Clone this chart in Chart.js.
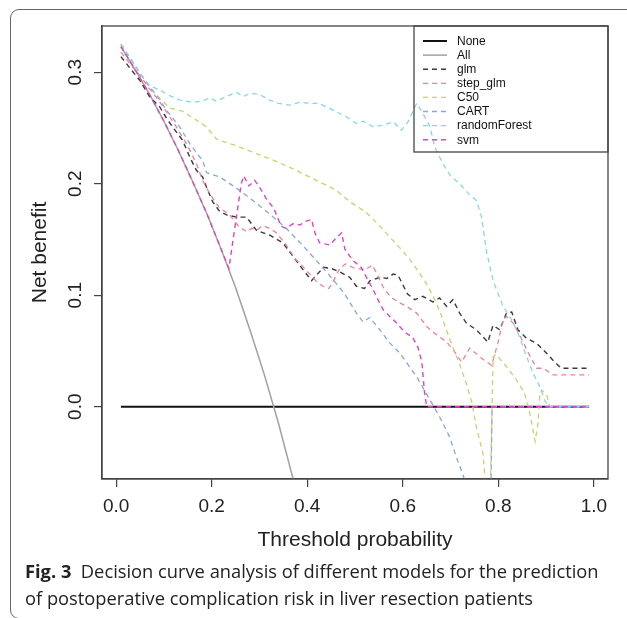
<!DOCTYPE html>
<html>
<head>
<meta charset="utf-8">
<script src="https://cdn.jsdelivr.net/npm/chart.js@4.4.1/dist/chart.umd.min.js"></script>
<style>
  html, body { margin: 0; padding: 0; background: #fff; }
  #wrap { position: relative; width: 627px; height: 618px; overflow: hidden; }
  #frame {
    position: absolute; left: 10px; top: 9px; width: 700px; height: 610px;
    border: 1.3px solid #666; border-radius: 9px; box-sizing: border-box;
  }
  #chart { position: absolute; left: 0; top: 0; }
  #caption {
    position: absolute; left: 25px; top: 557px; white-space: nowrap;
    font-family: "Open Sans", "Noto Sans", sans-serif; font-size: 18.3px; line-height: 27px; color: #222;
  }
</style>
</head>
<body>
<div id="wrap">
  <div id="frame"></div>
  <canvas id="chart" width="627" height="618"></canvas>
  <div id="caption"><b>Fig. 3</b>&nbsp; Decision curve analysis of different models for the prediction<br>of postoperative complication risk in liver resection patients</div>
</div>
<script>
  // Curvas de decisión: [umbral, beneficio neto]
  const modelNames = ['None', 'All', 'glm', 'step_glm', 'C50', 'CART', 'randomForest', 'svm'];
  const xTicks = [0, 0.2, 0.4, 0.6, 0.8, 1.0];
  const yTicks = [0, 0.1, 0.2, 0.3];

  const noneCurve = [[0.01, 0], [0.99, 0]];
  const allCurve = [[0.01, 0.323], [0.04, 0.302], [0.07, 0.280], [0.10, 0.256], [0.13, 0.230], [0.16, 0.202],
    [0.19, 0.173], [0.22, 0.141], [0.25, 0.107], [0.28, 0.069], [0.31, 0.029], [0.34, -0.015], [0.37, -0.064], [0.40, -0.117]];
  const glmCurve = [[0.01, 0.314], [0.03, 0.303], [0.049, 0.293], [0.07, 0.278], [0.091, 0.269], [0.105, 0.259],
    [0.118, 0.251], [0.139, 0.239], [0.154, 0.224], [0.168, 0.212], [0.181, 0.206], [0.189, 0.197], [0.202, 0.184],
    [0.215, 0.176], [0.231, 0.172], [0.252, 0.170], [0.273, 0.170], [0.294, 0.158], [0.321, 0.154], [0.349, 0.147],
    [0.37, 0.135], [0.391, 0.123], [0.409, 0.113], [0.434, 0.125], [0.45, 0.124], [0.468, 0.121], [0.489, 0.116],
    [0.503, 0.108], [0.52, 0.106], [0.531, 0.113], [0.552, 0.116], [0.567, 0.115], [0.58, 0.119], [0.59, 0.118],
    [0.61, 0.101], [0.625, 0.096], [0.642, 0.099], [0.663, 0.094], [0.677, 0.0975], [0.692, 0.090], [0.705, 0.096],
    [0.719, 0.084], [0.733, 0.075], [0.754, 0.069], [0.778, 0.058], [0.789, 0.073], [0.803, 0.069], [0.817, 0.084],
    [0.828, 0.085], [0.841, 0.069], [0.859, 0.0615], [0.88, 0.057], [0.901, 0.048], [0.918, 0.040], [0.932, 0.0345],
    [0.99, 0.0345]];
  const stepGlmCurve = [[0.01, 0.318], [0.03, 0.307], [0.05, 0.297], [0.07, 0.285], [0.085, 0.277], [0.10, 0.268],
    [0.115, 0.258], [0.126, 0.251], [0.137, 0.243], [0.147, 0.236], [0.158, 0.227], [0.168, 0.218], [0.181, 0.203],
    [0.196, 0.191], [0.207, 0.184], [0.217, 0.178], [0.228, 0.175], [0.238, 0.172], [0.25, 0.165], [0.259, 0.161],
    [0.273, 0.157], [0.284, 0.160], [0.294, 0.158], [0.305, 0.162], [0.315, 0.161], [0.325, 0.159], [0.335, 0.156],
    [0.345, 0.151], [0.356, 0.145], [0.374, 0.133], [0.39, 0.126], [0.407, 0.118], [0.42, 0.112], [0.433, 0.108],
    [0.445, 0.106], [0.454, 0.112], [0.468, 0.124], [0.48, 0.128], [0.50, 0.124], [0.522, 0.123], [0.536, 0.127],
    [0.545, 0.120], [0.558, 0.108], [0.573, 0.099], [0.59, 0.094], [0.608, 0.090], [0.629, 0.084], [0.65, 0.072],
    [0.672, 0.064], [0.692, 0.058], [0.709, 0.049], [0.723, 0.040], [0.74, 0.0525], [0.765, 0.0435], [0.786, 0.037],
    [0.799, 0.057], [0.81, 0.078], [0.817, 0.081], [0.831, 0.075], [0.845, 0.064], [0.862, 0.049], [0.88, 0.0345],
    [0.894, 0.0345], [0.915, 0.0285], [0.99, 0.0285]];
  const c50Curve = [[0.01, 0.325], [0.03, 0.312], [0.05, 0.299], [0.07, 0.287], [0.09, 0.277], [0.112, 0.268],
    [0.139, 0.265], [0.168, 0.257], [0.189, 0.251], [0.21, 0.240], [0.23, 0.237], [0.252, 0.234], [0.294, 0.227],
    [0.335, 0.220], [0.377, 0.212], [0.419, 0.203], [0.461, 0.194], [0.489, 0.184], [0.524, 0.174], [0.55, 0.163],
    [0.573, 0.152], [0.595, 0.142], [0.615, 0.132], [0.633, 0.121], [0.65, 0.110], [0.665, 0.098], [0.677, 0.086],
    [0.698, 0.061], [0.719, 0.038], [0.733, 0.021], [0.745, 0.003], [0.754, -0.018], [0.768, -0.042], [0.776, -0.085],
    [0.783, -0.085], [0.789, 0.045], [0.795, 0.047], [0.817, 0.036], [0.838, 0.024], [0.855, 0.012], [0.866, -0.006],
    [0.877, -0.031], [0.883, -0.015], [0.887, 0.012], [0.891, 0.015], [0.901, 0.0105], [0.908, 0], [0.99, 0]];
  const cartCurve = [[0.01, 0.325], [0.03, 0.312], [0.05, 0.299], [0.07, 0.287], [0.09, 0.276], [0.105, 0.266],
    [0.12, 0.258], [0.133, 0.251], [0.154, 0.236], [0.175, 0.224], [0.181, 0.221], [0.189, 0.210], [0.217, 0.206],
    [0.252, 0.196], [0.286, 0.185], [0.321, 0.173], [0.356, 0.160], [0.392, 0.144], [0.419, 0.131], [0.44, 0.121],
    [0.454, 0.114], [0.477, 0.102], [0.503, 0.084], [0.517, 0.076], [0.531, 0.080], [0.552, 0.069], [0.573, 0.057],
    [0.594, 0.048], [0.629, 0.027], [0.657, 0.006], [0.677, -0.009], [0.698, -0.027], [0.712, -0.045], [0.726, -0.061],
    [0.74, -0.08], [0.782, -0.15], [0.787, 0], [0.99, 0]];
  const rfCurve = [[0.01, 0.325], [0.03, 0.312], [0.05, 0.299], [0.07, 0.288], [0.091, 0.284], [0.112, 0.279],
    [0.133, 0.275], [0.161, 0.273], [0.18, 0.274], [0.196, 0.277], [0.21, 0.274], [0.235, 0.279], [0.252, 0.282],
    [0.265, 0.278], [0.28, 0.281], [0.30, 0.280], [0.321, 0.275], [0.34, 0.272], [0.363, 0.2705], [0.385, 0.273],
    [0.405, 0.272], [0.426, 0.272], [0.432, 0.2705], [0.454, 0.266], [0.482, 0.260], [0.503, 0.254], [0.517, 0.256],
    [0.538, 0.251], [0.559, 0.2525], [0.58, 0.2555], [0.597, 0.248], [0.611, 0.2555], [0.629, 0.272], [0.642, 0.263],
    [0.657, 0.251], [0.667, 0.233], [0.677, 0.224], [0.688, 0.215], [0.70, 0.207], [0.719, 0.200], [0.74, 0.190],
    [0.754, 0.185], [0.765, 0.170], [0.775, 0.140], [0.789, 0.113], [0.81, 0.090], [0.828, 0.078], [0.845, 0.062],
    [0.859, 0.045], [0.873, 0.030], [0.887, 0.018], [0.897, 0.006], [0.904, 0], [0.99, 0]];
  const svmCurve = [[0.01, 0.323], [0.04, 0.302], [0.07, 0.280], [0.10, 0.256], [0.13, 0.230], [0.16, 0.202],
    [0.19, 0.173], [0.22, 0.141], [0.236, 0.124], [0.25, 0.165], [0.262, 0.200], [0.267, 0.207], [0.278, 0.198],
    [0.29, 0.203], [0.30, 0.197], [0.315, 0.186], [0.33, 0.178], [0.345, 0.162], [0.355, 0.160], [0.37, 0.164],
    [0.385, 0.163], [0.395, 0.166], [0.409, 0.168], [0.416, 0.156], [0.426, 0.147], [0.447, 0.145], [0.462, 0.152],
    [0.472, 0.156], [0.479, 0.141], [0.496, 0.131], [0.513, 0.125], [0.524, 0.116], [0.538, 0.105], [0.548, 0.096],
    [0.559, 0.087], [0.573, 0.081], [0.587, 0.075], [0.604, 0.067], [0.621, 0.062], [0.632, 0.053], [0.64, 0.040],
    [0.645, 0.015], [0.65, 0], [0.99, 0]];

  const curves = [noneCurve, allCurve, glmCurve, stepGlmCurve, c50Curve, cartCurve, rfCurve, svmCurve];
  const lineColors = ['#111111', '#a0a0a0', '#3a3a3a', '#f07f9f', '#c3d56e', '#86a6dc', '#86d8e8', '#dd45c4'];
  const lineWidths = [2, 1.5, 1.4, 1.3, 1.3, 1.3, 1.3, 1.4];
  const dashed = [false, false, true, true, true, true, true, true];

  const plotFont = '"Liberation Sans", Arial, sans-serif';

  // cuadro del gráfico y leyenda al estilo de R
  const boxAndLegend = {
    id: 'boxAndLegend',
    afterDatasetsDraw(chart) {
      const { ctx, chartArea: a } = chart;
      ctx.save();
      ctx.strokeStyle = '#444';
      ctx.lineWidth = 1.3;
      ctx.strokeRect(a.left, a.top, a.right - a.left, a.bottom - a.top);
      const w = 194, h = 126;
      const lx = a.right - w, ly = a.top;
      ctx.strokeRect(lx, ly, w, h);
      ctx.font = '12px ' + plotFont;
      ctx.textBaseline = 'middle';
      chart.data.datasets.forEach((ds, i) => {
        const y = ly + 15 + i * 14.1;
        ctx.beginPath();
        ctx.setLineDash(ds.borderDash || []);
        ctx.strokeStyle = ds.borderColor;
        ctx.lineWidth = ds.borderWidth;
        ctx.moveTo(lx + 9, y);
        ctx.lineTo(lx + 33, y);
        ctx.stroke();
        ctx.setLineDash([]);
        ctx.fillStyle = '#111';
        ctx.fillText(ds.label, lx + 43, y + 0.5);
      });
      ctx.restore();
    }
  };

  const tickFmt = v => Number(v).toFixed(1);

  new Chart(document.getElementById('chart').getContext('2d'), {
    type: 'line',
    data: {
      datasets: curves.map((c, i) => ({
        label: modelNames[i],
        data: c.map(p => ({ x: p[0], y: p[1] })),
        borderColor: lineColors[i],
        borderWidth: lineWidths[i],
        borderDash: dashed[i] ? [5, 4] : [],
        pointRadius: 0,
        fill: false,
        tension: 0,
        order: curves.length - i
      }))
    },
    options: {
      responsive: false,
      animation: false,
      layout: { padding: { left: 0, top: 26, right: 19, bottom: 0 } },
      plugins: { legend: { display: false }, tooltip: { enabled: false } },
      scales: {
        x: {
          type: 'linear', min: -0.0296, max: 1.0296,
          afterBuildTicks: s => { s.ticks = xTicks.map(v => ({ value: v })); },
          afterFit: s => { s.height = 139; },
          grid: { drawOnChartArea: false, drawTicks: true, tickLength: 8, color: '#444', lineWidth: 1.2 },
          border: { display: true, color: '#444', width: 1.3 },
          ticks: { font: { family: plotFont, size: 19 }, color: '#222', padding: 8, maxRotation: 0, autoSkip: false, callback: tickFmt },
          title: { display: true, text: 'Threshold probability', color: '#222', font: { family: plotFont, size: 21 }, padding: { top: 0, bottom: 65 } }
        },
        y: {
          type: 'linear', min: -0.0648, max: 0.3414,
          afterBuildTicks: s => { s.ticks = yTicks.map(v => ({ value: v })); },
          afterFit: s => { s.width = 102; },
          grid: { drawOnChartArea: false, drawTicks: true, tickLength: 8, color: '#444', lineWidth: 1.2 },
          border: { display: true, color: '#444', width: 1.3 },
          ticks: { font: { family: plotFont, size: 19 }, color: '#222', padding: 5, minRotation: 90, maxRotation: 90, crossAlign: 'center', callback: tickFmt },
          title: { display: true, text: 'Net benefit', color: '#222', font: { family: plotFont, size: 21 }, padding: { top: 28, bottom: 0 } }
        }
      }
    },
    plugins: [boxAndLegend]
  });
</script>
</body>
</html>
